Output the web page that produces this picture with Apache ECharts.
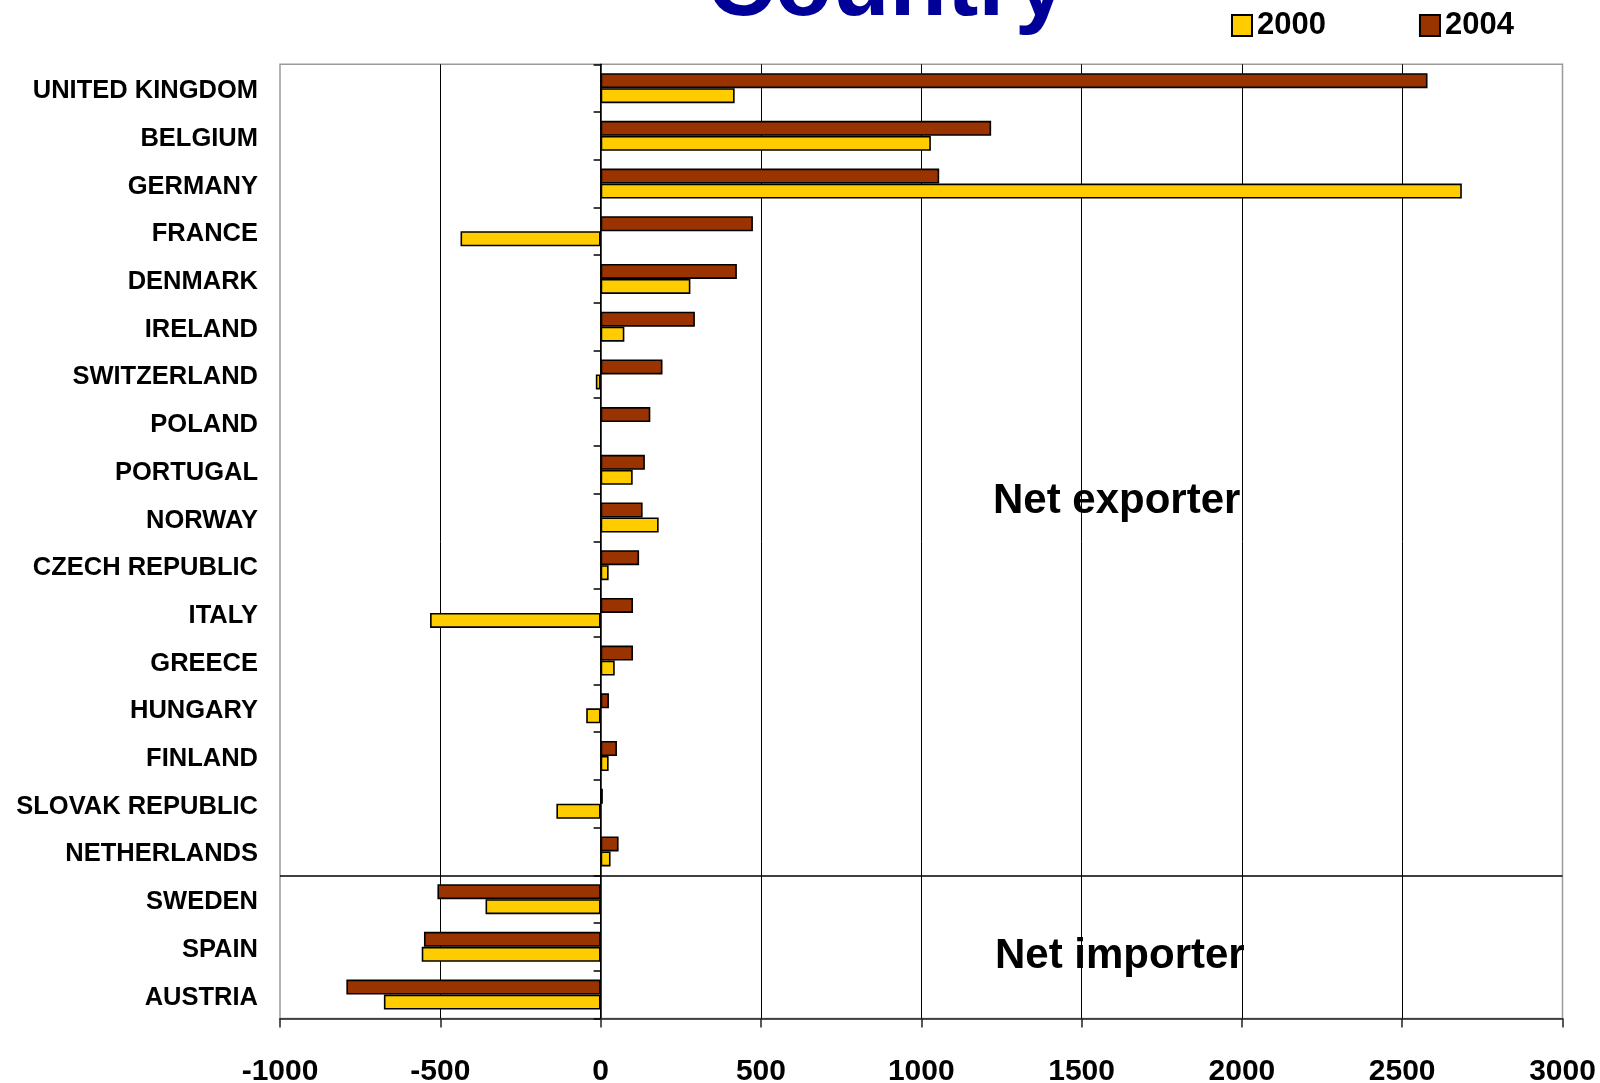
<!DOCTYPE html>
<html>
<head>
<meta charset="utf-8">
<title>Net exporter / importer by country</title>
<script src="https://cdn.jsdelivr.net/npm/echarts@6/dist/echarts.min.js"></script>
<style>
  html, body { margin: 0; padding: 0; background: #fff; }
  #chart { width: 1600px; height: 1083px; }
</style>
</head>
<body>
<div id="chart"></div>
<script>
// Countries, top to bottom
const countries = [
  'UNITED KINGDOM', 'BELGIUM', 'GERMANY', 'FRANCE', 'DENMARK', 'IRELAND',
  'SWITZERLAND', 'POLAND', 'PORTUGAL', 'NORWAY', 'CZECH REPUBLIC', 'ITALY',
  'GREECE', 'HUNGARY', 'FINLAND', 'SLOVAK REPUBLIC', 'NETHERLANDS',
  'SWEDEN', 'SPAIN', 'AUSTRIA'
];

// Net balance per country
const values2000 = [
  418, 1030, 2686, -437, 280, 74,
  -15, null, 100, 181, 25, -532,
  44, -45, 25, -138, 31,
  -359, -558, -676
];
const values2004 = [
  2579, 1218, 1056, 475, 425, 294,
  193, 155, 138, 131, 120, 101,
  101, 26, 51, 7, 56,
  -509, -551, -793
];

const seriesNames = ['2000', '2004'];
const xTicks = { min: -1000, max: 3000, step: 500 };
const firstImporter = 'SWEDEN';

const FONT = '"Liberation Sans", Arial, sans-serif';
const COLOR_2000 = '#FFCC00';
const COLOR_2004 = '#993300';
const GRID_LEFT = 280;

const chart = echarts.init(document.getElementById('chart'), null, { renderer: 'canvas' });
const dividerIndex = countries.indexOf(firstImporter);

const barStyle = (color) => ({ color: color, borderColor: '#000', borderWidth: 1.6 });

chart.setOption({
  backgroundColor: '#fff',
  animation: false,
  textStyle: { fontFamily: FONT },
  grid: {
    left: GRID_LEFT, right: 37.5, top: 64.3, bottom: 64.6,
    outerBoundsMode: 'none',
    show: true, borderColor: '#9a9a9a', borderWidth: 1.5, backgroundColor: 'transparent'
  },
  legend: {
    data: seriesNames,
    left: 1226, top: 5,
    itemWidth: 20, itemHeight: 21, itemGap: 93,
    icon: 'rect',
    textStyle: { fontFamily: FONT, fontSize: 31, fontWeight: 'bold', color: '#000' }
  },
  xAxis: {
    type: 'value',
    min: xTicks.min, max: xTicks.max, interval: xTicks.step,
    axisLine: { show: true, onZero: false, lineStyle: { color: '#222', width: 1.5 } },
    axisTick: { show: true, length: 9, lineStyle: { color: '#222', width: 1.5 } },
    axisLabel: {
      fontFamily: FONT, fontSize: 30, fontWeight: 'bold', color: '#000', margin: 38,
      formatter: (v) => String(v)
    },
    splitLine: { show: true, showMinLine: false, showMaxLine: false, lineStyle: { color: '#000', width: 1 } }
  },
  yAxis: [
    {
      // country names along the left edge of the plot
      type: 'category',
      data: countries,
      inverse: true,
      axisLine: { show: false, onZero: false },
      axisTick: { show: false },
      axisLabel: {
        fontFamily: FONT, fontSize: 25.5, fontWeight: 'bold', color: '#000', margin: 22,
        verticalAlign: 'top', lineHeight: 6
      },
      splitLine: { show: false }
    },
    {
      // category axis line with ticks, placed on the zero value
      type: 'category',
      data: countries,
      inverse: true,
      position: 'left',
      offset: 0,
      axisLine: { show: true, onZero: false, lineStyle: { color: '#000', width: 1.5 } },
      axisTick: { show: true, length: 7, inside: false, lineStyle: { color: '#000', width: 1.5 } },
      axisLabel: { show: false },
      splitLine: { show: false }
    },
    {
      // band boundaries as values: k = top edge of category k
      type: 'value',
      show: false,
      inverse: true,
      min: 0,
      max: countries.length,
      splitLine: { show: false }
    }
  ],
  series: [
    {
      name: seriesNames[1], type: 'bar', yAxisIndex: 0,
      data: values2004, barWidth: 15, barGap: '0%',
      itemStyle: barStyle(COLOR_2004)
    },
    {
      name: seriesNames[0], type: 'bar', yAxisIndex: 0,
      data: values2000, barWidth: 15, barGap: '0%',
      itemStyle: barStyle(COLOR_2000)
    },
    {
      // exporter / importer divider
      name: 'divider', type: 'line', yAxisIndex: 2, data: [],
      silent: true,
      markLine: {
        silent: true,
        symbol: 'none',
        label: { show: false },
        lineStyle: { color: '#000', width: 1.5, type: 'solid' },
        data: [{ yAxis: dividerIndex }]
      }
    }
  ],
  graphic: [
    {
      type: 'text', silent: true,
      style: {
        text: 'Country', x: 887, y: 36, textAlign: 'center', textVerticalAlign: 'bottom',
        font: 'bold 94px ' + FONT, fill: '#000099'
      }
    },
    {
      type: 'text', silent: true,
      style: {
        text: 'Net exporter', x: 993, y: 501, textAlign: 'left', textVerticalAlign: 'middle',
        font: 'bold 42px ' + FONT, fill: '#000'
      }
    },
    {
      type: 'text', silent: true,
      style: {
        text: 'Net importer', x: 995, y: 956, textAlign: 'left', textVerticalAlign: 'middle',
        font: 'bold 42px ' + FONT, fill: '#000'
      }
    }
  ]
});

// move the tick axis onto the zero value of the x scale
const zeroPx = chart.convertToPixel({ xAxisIndex: 0 }, 0);
chart.setOption({ yAxis: [{}, { offset: GRID_LEFT - zeroPx }, {}] });
</script>
</body>
</html>
